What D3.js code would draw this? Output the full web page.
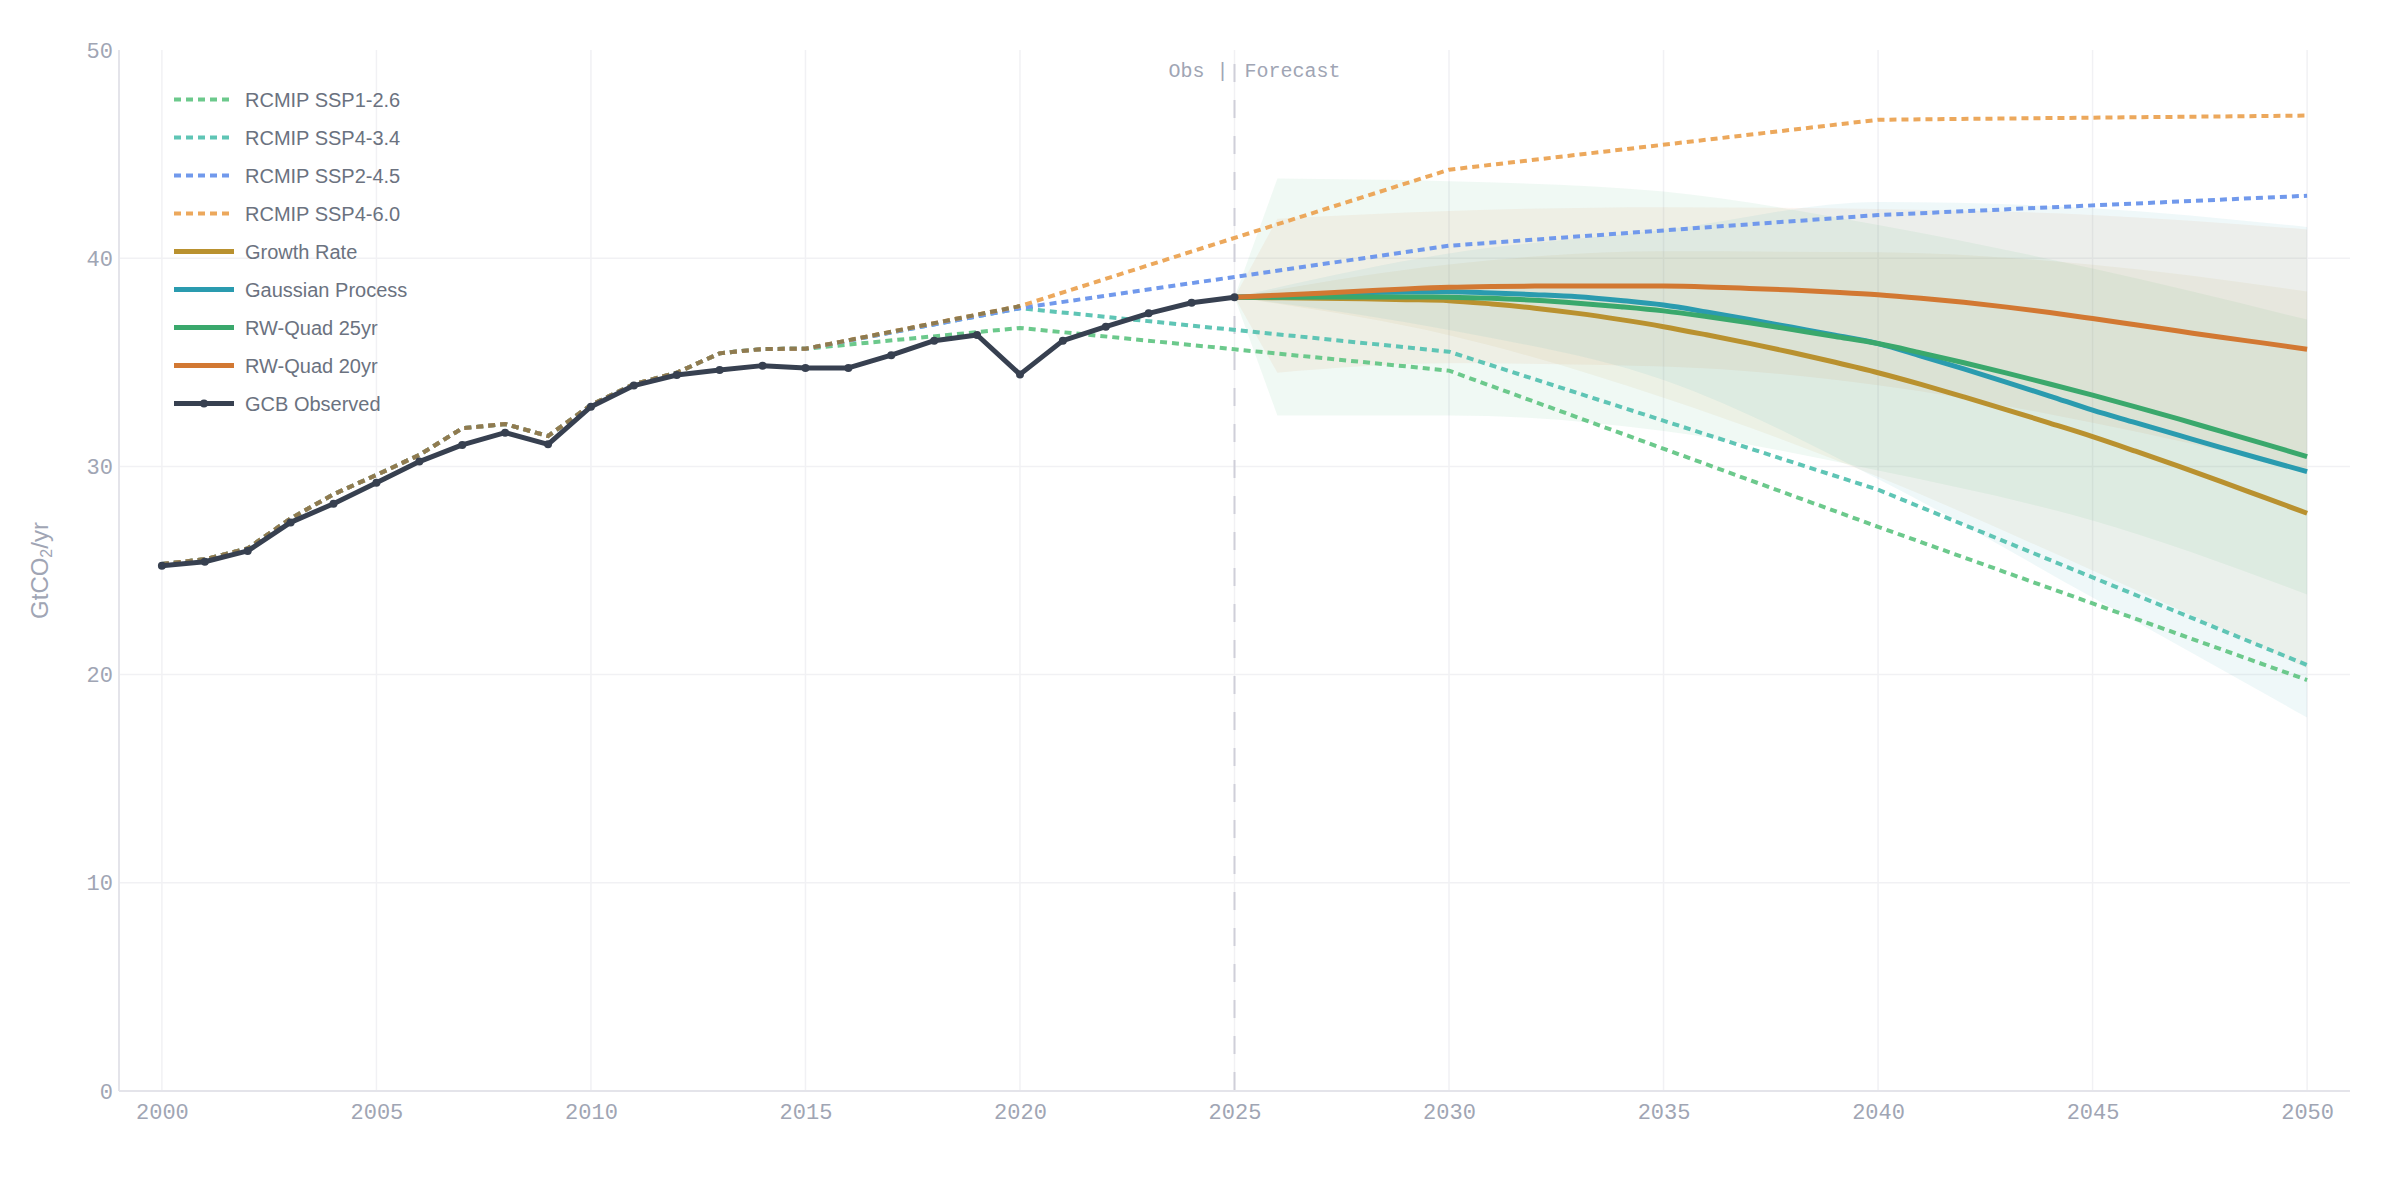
<!DOCTYPE html>
<html>
<head>
<meta charset="utf-8">
<script src="https://cdn.jsdelivr.net/npm/d3@7"></script>
<style>
  body { margin: 0; background: #fff; }
  svg { display: block; }
</style>
</head>
<body>
<div id="chart"></div>
<script>
// ---- datos observados (GCB) ----
const obsYears = [2000, 2001, 2002, 2003, 2004, 2005, 2006, 2007, 2008, 2009, 2010, 2011, 2012,
    2013, 2014, 2015, 2016, 2017, 2018, 2019, 2020, 2021, 2022, 2023, 2024, 2025];
const gcbObserved = [25.23, 25.42, 25.94, 27.31, 28.21, 29.22, 30.23, 31.03, 31.62, 31.06, 32.87, 33.88, 34.39,
    34.63, 34.84, 34.73, 34.73, 35.34, 36.04, 36.31, 34.42, 36.04, 36.71, 37.35, 37.86, 38.12];

// ---- RCMIP: historico comun + escenarios ----
const rcmipHistYears = [2000, 2001, 2002, 2003, 2004, 2005, 2006, 2007, 2008, 2009, 2010, 2011, 2012, 2013, 2014, 2015];
const rcmipHist = [25.31, 25.54, 26.06, 27.5, 28.66, 29.59, 30.55, 31.83, 32.04, 31.46, 32.95, 33.95, 34.5, 35.43, 35.64, 35.65];
const rcmipYears = [2020, 2030, 2040, 2050];
const ssp126 = [36.65, 34.6, 27.1, 19.74];
const ssp434 = [37.6, 35.51, 28.88, 20.46];
const ssp245 = [37.6, 40.6, 42.07, 43.0];
const ssp460 = [37.7, 44.25, 46.65, 46.85];

// ---- pronosticos (2025-2050) ----
const fcYears = [2025, 2026, 2027, 2028, 2029, 2030, 2031, 2032, 2033, 2034, 2035, 2036, 2037,
    2038, 2039, 2040, 2041, 2042, 2043, 2044, 2045, 2046, 2047, 2048, 2049, 2050];
const growthRate = [38.12, 38.1, 38.08, 38.05, 38.01, 37.96, 37.8, 37.6, 37.35, 37.05, 36.71, 36.32, 35.91,
    35.47, 35.0, 34.5, 33.94, 33.34, 32.72, 32.08, 31.43, 30.73, 30.01, 29.27, 28.51, 27.75];
const gaussProc = [38.12, 38.2, 38.28, 38.35, 38.38, 38.39, 38.33, 38.25, 38.15, 37.97, 37.75, 37.42, 37.06,
    36.68, 36.3, 35.9, 35.3, 34.68, 34.04, 33.38, 32.7, 32.1, 31.5, 30.9, 30.32, 29.75];
const rwQuad25 = [38.12, 38.13, 38.14, 38.14, 38.14, 38.13, 38.08, 37.98, 37.84, 37.67, 37.47, 37.2, 36.9,
    36.57, 36.24, 35.9, 35.45, 34.98, 34.48, 33.96, 33.42, 32.86, 32.28, 31.68, 31.08, 30.47];
const rwQuad20 = [38.12, 38.22, 38.32, 38.42, 38.52, 38.6, 38.64, 38.66, 38.67, 38.67, 38.66, 38.62, 38.55,
    38.47, 38.37, 38.25, 38.08, 37.88, 37.65, 37.39, 37.1, 36.8, 36.5, 36.2, 35.92, 35.63];

// ---- bandas de incertidumbre ----
const bandYears = [2025, 2030, 2035, 2040, 2045, 2050];
const grLo = [38.12, 36.3, 33.3, 29.5, 25.0, 20.3];
const grHi = [38.12, 39.7, 40.33, 40.28, 39.69, 38.4];
const gpLo = [38.12, 36.55, 34.15, 29.4, 23.7, 17.94];
const gpHi = [38.12, 40.23, 41.35, 42.7, 42.4, 41.5];
const rwBandYears = [2025, 2026, 2030, 2035, 2040, 2045, 2050];
const rw25Lo = [38.12, 32.44, 32.45, 31.7, 29.8, 27.4, 23.85];
const rw25Hi = [38.12, 43.83, 43.7, 43.2, 41.6, 39.5, 37.05];
const rw20Lo = [38.12, 34.5, 34.95, 34.8, 33.9, 32.1, 29.8];
const rw20Hi = [38.12, 41.9, 42.27, 42.45, 42.36, 42.08, 41.38];

// ticks
const xTicks = [2000, 2005, 2010, 2015, 2020, 2025, 2030, 2035, 2040, 2045, 2050];
const yTicks = [0, 10, 20, 30, 40, 50];
const forecastStart = 2025;

function grafica() {
    const width = 2400, height = 1200;
    const margin = { top: 50, right: 50, bottom: 109, left: 119 };

    const x = d3.scaleLinear().domain([1999, 2051]).range([margin.left, width - margin.right]);
    const y = d3.scaleLinear().domain([0, 50]).range([height - margin.bottom, margin.top]);

    const monoFont = '"Liberation Mono", "DejaVu Sans Mono", monospace';
    const sansFont = '"Liberation Sans", Arial, sans-serif';

    const svg = d3.select('#chart').append('svg')
        .attr('width', width)
        .attr('height', height);

    // grid
    const grid = svg.append('g').attr('stroke', '#f1f1f4').attr('stroke-width', 1.5);
    grid.selectAll('line.v').data(xTicks).join('line')
        .attr('x1', d => x(d)).attr('x2', d => x(d))
        .attr('y1', y(50)).attr('y2', y(0));
    grid.selectAll('line.h').data(yTicks.filter(d => d > 0 && d < 50)).join('line')
        .attr('x1', x.range()[0]).attr('x2', x.range()[1])
        .attr('y1', d => y(d)).attr('y2', d => y(d));

    // modelos (colores)
    const modelos = [
        { name: 'Growth Rate', color: '#b9912f', values: growthRate, bYears: bandYears, lo: grLo, hi: grHi },
        { name: 'Gaussian Process', color: '#2a9baf', values: gaussProc, bYears: bandYears, lo: gpLo, hi: gpHi },
        { name: 'RW-Quad 25yr', color: '#3aa86c', values: rwQuad25, bYears: rwBandYears, lo: rw25Lo, hi: rw25Hi, salto: true },
        { name: 'RW-Quad 20yr', color: '#d27832', values: rwQuad20, bYears: rwBandYears, lo: rw20Lo, hi: rw20Hi, salto: true }
    ];

    const rcmip = [
        { name: 'RCMIP SSP1-2.6', color: '#6cc98c', values: ssp126 },
        { name: 'RCMIP SSP4-3.4', color: '#5fc5b5', values: ssp434 },
        { name: 'RCMIP SSP2-4.5', color: '#7199ec', values: ssp245 },
        { name: 'RCMIP SSP4-6.0', color: '#eca85c', values: ssp460 }
    ];

    // bandas primero
    const area = d3.area()
        .x(d => x(d[0])).y0(d => y(d[1])).y1(d => y(d[2]))
        .curve(d3.curveMonotoneX);

    // las bandas RW saltan en el primer año: tramo recto desde 2025, luego curva
    const bandPath = d => {
        const pts = d.bYears.map((yr, i) => [yr, d.lo[i], d.hi[i]]);
        if (!d.salto) return area(pts);
        const p0 = pts[0];
        return `M${x(p0[0])},${y(p0[1])}L` + area(pts.slice(1)).slice(1);
    };

    const bandOrder = [modelos[2], modelos[3], modelos[0], modelos[1]];
    svg.append('g').selectAll('path').data(bandOrder).join('path')
        .attr('fill', d => d.color)
        .attr('fill-opacity', 0.075)
        .attr('d', bandPath);

    // ejes
    svg.append('line')
        .attr('x1', x.range()[0]).attr('x2', x.range()[0])
        .attr('y1', y(50)).attr('y2', y(0))
        .attr('stroke', '#e4e4ea').attr('stroke-width', 2);
    svg.append('line')
        .attr('x1', x.range()[0]).attr('x2', x.range()[1])
        .attr('y1', y(0)).attr('y2', y(0))
        .attr('stroke', '#e4e4ea').attr('stroke-width', 2);

    const xAxis = svg.append('g')
        .attr('transform', `translate(0,${y(0)})`)
        .call(d3.axisBottom(x).tickValues(xTicks).tickFormat(d3.format('d')).tickSize(0).tickPadding(12));
    const yAxis = svg.append('g')
        .attr('transform', `translate(${x.range()[0]},0)`)
        .call(d3.axisLeft(y).tickValues(yTicks).tickSize(0).tickPadding(6));
    [xAxis, yAxis].forEach(g => {
        g.select('.domain').remove();
        g.selectAll('text')
            .attr('fill', '#a0a5b4')
            .style('font-family', monoFont)
            .style('font-size', '22px');
    });

    // titulo eje y
    const yTitle = svg.append('text')
        .attr('transform', `translate(48,${(y(0) + y(50)) / 2}) rotate(-90)`)
        .attr('text-anchor', 'middle')
        .attr('fill', '#a0a5b4')
        .style('font-family', sansFont)
        .style('font-size', '24px');
    yTitle.append('tspan').text('GtCO');
    yTitle.append('tspan').text('2').style('font-size', '16px').attr('dy', 4);
    yTitle.append('tspan').text('/yr').attr('dy', -4);

    // linea vertical obs / forecast
    svg.append('line')
        .attr('x1', x(forecastStart)).attr('x2', x(forecastStart))
        .attr('y1', y(50)).attr('y2', y(0))
        .attr('stroke', '#cfcfd9').attr('stroke-width', 2)
        .attr('stroke-dasharray', '18,18').attr('stroke-dashoffset', 22);
    svg.append('text')
        .attr('x', x(forecastStart) - 6).attr('y', 77)
        .attr('text-anchor', 'end')
        .attr('fill', '#a0a5b4')
        .style('font-family', monoFont).style('font-size', '20px')
        .text('Obs |');
    svg.append('text')
        .attr('x', x(forecastStart) + 10).attr('y', 77)
        .attr('fill', '#a0a5b4')
        .style('font-family', monoFont).style('font-size', '20px')
        .text('Forecast');

    const line = d3.line().x(d => x(d[0])).y(d => y(d[1]));
    const smooth = d3.line().x(d => x(d[0])).y(d => y(d[1])).curve(d3.curveMonotoneX);

    // RCMIP punteadas
    const rcmipPts = s => rcmipHistYears.map((yr, i) => [yr, rcmipHist[i]])
        .concat(rcmipYears.map((yr, i) => [yr, s.values[i]]));

    svg.append('g').selectAll('path').data(rcmip).join('path')
        .attr('fill', 'none')
        .attr('stroke', d => d.color)
        .attr('stroke-width', 4)
        .attr('stroke-dasharray', '7,5')
        .attr('d', d => line(rcmipPts(d)));

    // tramo historico superpuesto (se ve marron oliva)
    svg.append('path')
        .attr('fill', 'none')
        .attr('stroke', '#8e7b50')
        .attr('stroke-width', 4)
        .attr('stroke-dasharray', '7,5')
        .attr('d', line(rcmipPts(rcmip[3]).filter(d => d[0] <= 2020)));

    // lineas de pronostico
    svg.append('g').selectAll('path').data(modelos).join('path')
        .attr('fill', 'none')
        .attr('stroke', d => d.color)
        .attr('stroke-width', 5)
        .attr('stroke-linejoin', 'round')
        .attr('d', d => smooth(fcYears.map((yr, i) => [yr, d.values[i]])));

    // observado
    const obsPts = obsYears.map((yr, i) => [yr, gcbObserved[i]]);
    svg.append('path')
        .attr('fill', 'none')
        .attr('stroke', '#374050')
        .attr('stroke-width', 5)
        .attr('stroke-linejoin', 'round')
        .attr('d', line(obsPts));
    svg.append('g').selectAll('circle').data(obsPts).join('circle')
        .attr('cx', d => x(d[0])).attr('cy', d => y(d[1]))
        .attr('r', 4)
        .attr('fill', '#374050');

    // leyenda
    const leyenda = rcmip.map(d => ({ name: d.name, color: d.color, dashed: true }))
        .concat(modelos.map(d => ({ name: d.name, color: d.color })))
        .concat([{ name: 'GCB Observed', color: '#374050', dot: true }]);

    const lg = svg.append('g').selectAll('g').data(leyenda).join('g')
        .attr('transform', (d, i) => `translate(174,${99.5 + i * 38})`);
    lg.append('line')
        .attr('x1', 0).attr('x2', 60)
        .attr('stroke', d => d.color)
        .attr('stroke-width', d => d.dashed ? 4 : 5)
        .attr('stroke-dasharray', d => d.dashed ? '7,5' : null);
    lg.filter(d => d.dot).append('circle')
        .attr('cx', 30).attr('r', 4).attr('fill', d => d.color);
    lg.append('text')
        .attr('x', 71).attr('dy', '0.35em')
        .attr('fill', '#6b7280')
        .style('font-family', sansFont)
        .style('font-size', '20px')
        .text(d => d.name);
}

grafica();
</script>
</body>
</html>
